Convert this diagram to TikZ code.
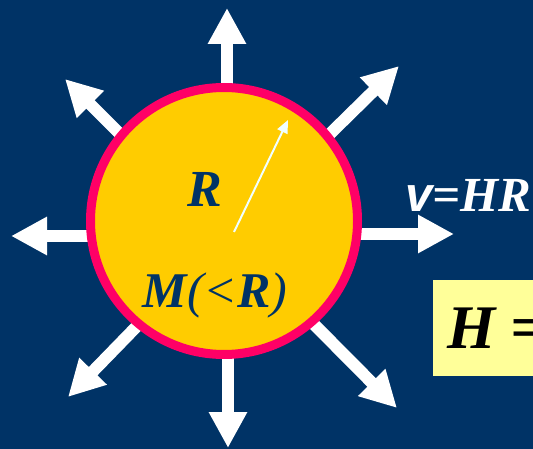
\documentclass[tikz,border=0pt]{standalone}
\usepackage{fontspec}
\setmainfont{Liberation Serif}
\newfontfamily\sansf{Liberation Sans}
\usetikzlibrary{arrows.meta}
\definecolor{bgblue}{HTML}{003366}
\definecolor{sunfill}{HTML}{FFCC00}
\definecolor{ring}{HTML}{FF0066}
\definecolor{boxfill}{HTML}{FFFF99}
\definecolor{thinw}{HTML}{F0FFFF}
\tikzset{
  bigarrow/.style={draw=white, line width=12pt, -{Triangle[length=36pt,width=36pt]}},
  thinarrow/.style={draw=thinw, line width=2pt, -{Triangle[length=13pt,width=11pt]}},
  lbl/.style={font=\fontsize{52}{52}\selectfont\bfseries\itshape, text=bgblue, inner sep=0pt}
}
\begin{document}
\begin{tikzpicture}[x=1pt,y=-1pt]
\useasboundingbox (0,0) rectangle (533,449);
\clip (0,0) rectangle (533,449);
\fill[bgblue] (0,0) rectangle (533,449);
% arrow start points (hidden under the sphere) and tips
\coordinate (sN) at (227,150);  \coordinate (tN) at (227,8);
\coordinate (sS) at (228,300);  \coordinate (tS) at (228,448);
\coordinate (sE) at (300,234);  \coordinate (tE) at (454,234);
\coordinate (sW) at (150,236);  \coordinate (tW) at (11,236);
\coordinate (sNE) at (285,178); \coordinate (tNE) at (399,66);
\coordinate (sNW) at (160,174); \coordinate (tNW) at (65,79);
\coordinate (sSW) at (175,287); \coordinate (tSW) at (68,397);
\coordinate (sSE) at (270,280); \coordinate (tSE) at (397,408);
\foreach \d in {N,S,E,W,NE,NW,SW,SE}{
  \draw[bigarrow] (s\d) -- (t\d);
}
\node[circle, draw=ring, line width=9pt, fill=sunfill, minimum size=267pt, inner sep=0pt] (sun) at (224,221) {};
\coordinate (r0) at (234,232);
\coordinate (r1) at (288,120);
\draw[thinarrow] (r0) -- (r1);
\node[lbl, anchor=base] (rlab) at (205,207) {R};
\node[lbl, font=\fontsize{50}{50}\selectfont\itshape, anchor=base] (mlab) at (215,307) {\textbf{M}(<\textbf{R})};
\node[font=\fontsize{49}{49}\selectfont\bfseries\itshape, text=white, anchor=base west, inner sep=0pt] (vlab) at (405,212) {{\sansf v}=HR};
\node[fill=boxfill, anchor=north west, minimum width=140pt, minimum height=96pt, inner sep=0pt] (box) at (433,280) {};
\node[font=\fontsize{62}{62}\selectfont\bfseries\itshape, text=black, anchor=base west, inner sep=0pt] (hlab) at (447,348) {H =};
\end{tikzpicture}
\end{document}
